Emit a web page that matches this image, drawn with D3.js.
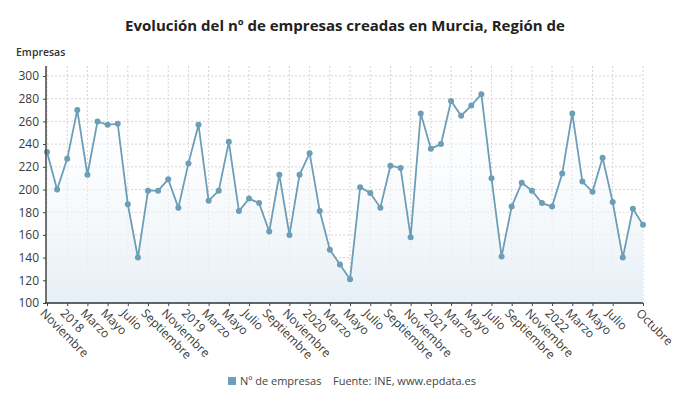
<!DOCTYPE html>
<html lang="es">
<head>
    <meta charset="UTF-8">
    <title>Empresas creadas Murcia</title>
    <style>
        body { margin: 0; background: #fff; font-family: "Open Sans", sans-serif; }
        #chart { width: 690px; height: 406px; }
        .grid line { stroke: #d4d4d4; stroke-dasharray: 2,2; }
        .axis text { fill: #3a3a3a; font-size: 12px; font-family: "Open Sans", sans-serif; }
    </style>
</head>
<body>
    <div id="chart"></div>
    <script src="https://d3js.org/d3.v7.min.js"></script>
    <script>
        // Monthly values, Nov 2017 .. Oct 2022
        const values = [
            233, 200, 227, 270, 213, 260, 257, 258, 187, 140, 199, 199,
            209, 184, 223, 257, 190, 199, 242, 181, 192, 188, 163, 213,
            160, 213, 232, 181, 147, 134, 121, 202, 197, 184, 221, 219,
            158, 267, 236, 240, 278, 265, 274, 284, 210, 141, 185, 206,
            199, 188, 185, 214, 267, 207, 198, 228, 189, 140, 183, 169
        ];
        // one label every second month, starting at the first point
        const tickLabels = [
            "Noviembre", "2018", "Marzo", "Mayo", "Julio", "Septiembre",
            "Noviembre", "2019", "Marzo", "Mayo", "Julio", "Septiembre",
            "Noviembre", "2020", "Marzo", "Mayo", "Julio", "Septiembre",
            "Noviembre", "2021", "Marzo", "Mayo", "Julio", "Septiembre",
            "Noviembre", "2022", "Marzo", "Mayo", "Julio"
        ];
        const lastLabel = "Octubre";
        const yTicks = [100, 120, 140, 160, 180, 200, 220, 240, 260, 280, 300];

        const W = 690, H = 406;
        const m = { left: 47, right: 643, top: 66, bottom: 303 };
        const lineColor = "#6c9eb7";

        const svg = d3.select("#chart").append("svg")
            .attr("width", W).attr("height", H);

        const x = d3.scaleLinear().domain([0, values.length - 1]).range([m.left, m.right]);
        const y = d3.scaleLinear().domain([100, 300]).range([m.bottom, 76]);

        // gradient for the area
        const grad = svg.append("defs").append("linearGradient")
            .attr("id", "areaGrad").attr("x1", 0).attr("y1", 0).attr("x2", 0).attr("y2", 1);
        grad.append("stop").attr("offset", "0%").attr("stop-color", "#ffffff").attr("stop-opacity", 0.2);
        grad.append("stop").attr("offset", "100%").attr("stop-color", "#e6eff6");

        // x tick positions: every second month plus the last one
        const xTickIdx = tickLabels.map((d, i) => i * 2).concat([values.length - 1]);
        const xTickText = tickLabels.concat([lastLabel]);

        // grid
        const grid = svg.append("g").attr("class", "grid");
        grid.selectAll(".h").data(yTicks).enter().append("line")
            .attr("x1", m.left).attr("x2", m.right)
            .attr("y1", d => y(d)).attr("y2", d => y(d));
        grid.selectAll(".v").data(xTickIdx).enter().append("line")
            .attr("x1", d => x(d)).attr("x2", d => x(d))
            .attr("y1", m.top).attr("y2", m.bottom);

        // area + line
        const area = d3.area()
            .x((d, i) => x(i)).y0(y(100)).y1(d => y(d));
        svg.append("path").datum(values)
            .attr("d", area).attr("fill", "url(#areaGrad)");

        const line = d3.line().x((d, i) => x(i)).y(d => y(d));
        svg.append("path").datum(values)
            .attr("d", line).attr("fill", "none")
            .attr("stroke", lineColor).attr("stroke-width", 1.8);

        svg.append("g").selectAll("circle").data(values).enter().append("circle")
            .attr("cx", (d, i) => x(i)).attr("cy", d => y(d))
            .attr("r", 3).attr("fill", lineColor);

        // y axis
        const yAxis = svg.append("g").attr("class", "axis")
            .attr("transform", `translate(${m.left - 1},0)`)
            .call(d3.axisLeft(y).tickValues(yTicks).tickSize(3).tickPadding(4));
        yAxis.select(".domain").remove();
        yAxis.append("line").attr("x1", 0).attr("x2", 0)
            .attr("y1", m.top).attr("y2", m.bottom)
            .attr("stroke", "#444").attr("stroke-width", 1.5);
        yAxis.selectAll(".tick line").attr("stroke", "#444");

        // x axis
        const xAxis = svg.append("g").attr("class", "axis")
            .attr("transform", `translate(0,${m.bottom})`)
            .call(d3.axisBottom(x).tickValues(xTickIdx).tickSize(3)
                .tickFormat((d, i) => xTickText[i]));
        xAxis.select(".domain").attr("stroke", "#333").attr("stroke-width", 1.5)
            .attr("d", `M${m.left - 2},0H${m.right}`);
        xAxis.selectAll(".tick line").attr("stroke", "#444");
        xAxis.selectAll(".tick text")
            .attr("text-anchor", "start")
            .attr("x", 0).attr("y", 0).attr("dy", "0.35em")
            .attr("transform", "translate(-5,8) rotate(45)");

        // title and y label
        svg.append("text").attr("x", W / 2).attr("y", 31)
            .attr("text-anchor", "middle")
            .style("font-size", "15px").style("font-weight", "bold").style("fill", "#222")
            .text("Evolución del nº de empresas creadas en Murcia, Región de");
        svg.append("text").attr("x", 16).attr("y", 56)
            .style("font-size", "10.5px").style("font-weight", "600").style("fill", "#333")
            .text("Empresas");

        // legend
        const lg = svg.append("g").attr("transform", "translate(228,377)");
        lg.append("rect").attr("width", 8).attr("height", 8).attr("fill", "#6b9fc0");
        lg.append("text").attr("x", 12).attr("y", 8)
            .style("font-size", "11px").style("fill", "#444").text("Nº de empresas");
        lg.append("text").attr("x", 105).attr("y", 8)
            .style("font-size", "11px").style("fill", "#444").text("Fuente: INE, www.epdata.es");
    </script>
</body>
</html>
